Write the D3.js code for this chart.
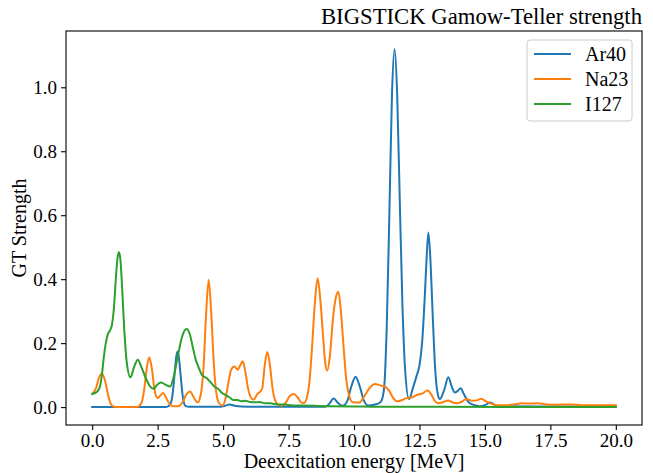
<!DOCTYPE html>
<html lang="en">
<head>
  <meta charset="UTF-8">
  <title>BIGSTICK Gamow-Teller strength</title>
  <script src="https://d3js.org/d3.v7.min.js"></script>
  <style>
    body { margin: 0; background: #fff; }
    text { font-family: "Liberation Serif", "DejaVu Serif", serif; fill: #000; }
  </style>
</head>
<body>
  <div class="canvas"></div>
  <script>
    // values: energy [MeV] and strength
    const ar40X = [0, 2.8, 2.9, 3.0, 3.06, 3.16, 3.21, 3.26, 3.31, 3.36, 3.46, 3.56, 3.7, 4.9, 5.1, 5.25, 5.45, 5.7, 6.5, 8.9,
      9.05, 9.22, 9.4, 9.57, 9.75, 9.9, 10.06, 10.22, 10.38, 10.54, 10.8, 10.95, 11.05, 11.15, 11.25, 11.35, 11.45, 11.55,
      11.65, 11.75, 11.85, 11.95, 12.1, 12.25, 12.4, 12.5, 12.6, 12.7, 12.77, 12.84, 12.92, 13.0, 13.1, 13.2, 13.28,
      13.45, 13.6, 13.75, 13.85, 13.95, 14.07, 14.2, 14.35, 14.49, 14.8, 15.0, 15.2, 15.4, 15.6, 17, 20];
    const ar40Y = [0, 0, 0.002, 0.012, 0.033, 0.115, 0.157, 0.174, 0.157, 0.115, 0.033, 0.004, 0.001, 0.001, 0.005, 0.008, 0.004, 0.002, 0.001, 0.001,
      0.01, 0.027, 0.012, 0.004, 0.02, 0.065, 0.095, 0.065, 0.02, 0.005, 0.008, 0.012, 0.02, 0.06, 0.25, 0.6, 0.975, 1.12,
      0.975, 0.64, 0.32, 0.12, 0.025, 0.06, 0.1, 0.13, 0.2, 0.34, 0.46, 0.546, 0.46, 0.3, 0.12, 0.04, 0.025,
      0.055, 0.093, 0.06, 0.046, 0.05, 0.059, 0.04, 0.018, 0.009, 0.003, 0.006, 0.014, 0.006, 0.003, 0.002, 0.002];

    const na23X = [0, 0.15, 0.25, 0.37, 0.5, 0.6, 0.7, 0.8, 1.0, 1.7, 1.88, 1.98, 2.08, 2.18, 2.28, 2.38, 2.5, 2.6, 2.71, 2.82,
      2.95, 3.1, 3.3, 3.45, 3.6, 3.74, 3.88, 4.03, 4.15, 4.25, 4.35, 4.45, 4.55, 4.65, 4.75, 4.85, 4.98, 5.1, 5.2, 5.3,
      5.43, 5.56, 5.65, 5.75, 5.85, 5.95, 6.05, 6.16, 6.3, 6.49, 6.59, 6.69, 6.79, 6.89, 6.99, 7.1, 7.24, 7.4, 7.55,
      7.71, 7.85, 8.0, 8.09, 8.2, 8.3, 8.4, 8.5, 8.61, 8.72, 8.82, 8.9, 8.98, 9.08, 9.2, 9.3, 9.4, 9.5, 9.6, 9.7, 9.8,
      9.95, 10.2, 10.4, 10.6, 10.8, 11.0, 11.2, 11.35, 11.5, 11.65, 11.85, 12.0, 12.2, 12.4, 12.6, 12.81, 12.95, 13.1,
      13.24, 13.4, 13.6, 13.75, 13.92, 14.1, 14.3, 14.5, 14.68, 14.85, 15.05, 15.25, 15.5, 15.8, 16.1, 16.4, 16.7, 17.0,
      17.3, 17.6, 18.0, 18.3, 18.7, 19.0, 19.5, 20];
    const na23Y = [0.042, 0.06, 0.09, 0.104, 0.08, 0.04, 0.012, 0.002, 0, 0, 0.013, 0.051, 0.119, 0.156, 0.119, 0.055, 0.028, 0.036, 0.044, 0.03,
      0.01, 0.003, 0.003, 0.015, 0.04, 0.049, 0.03, 0.014, 0.04, 0.12, 0.29, 0.398, 0.29, 0.13, 0.04, 0.012, 0.005, 0.03, 0.075, 0.115,
      0.127, 0.117, 0.13, 0.143, 0.11, 0.06, 0.032, 0.023, 0.04, 0.056, 0.13, 0.172, 0.13, 0.058, 0.02, 0.008, 0.004, 0.015, 0.035,
      0.041, 0.03, 0.014, 0.013, 0.03, 0.08, 0.19, 0.32, 0.403, 0.33, 0.22, 0.14, 0.114, 0.16, 0.28, 0.34, 0.361, 0.3, 0.19, 0.09, 0.04,
      0.015, 0.014, 0.035, 0.06, 0.072, 0.068, 0.063, 0.05, 0.028, 0.018, 0.022, 0.028, 0.03, 0.038, 0.042, 0.052, 0.04, 0.018,
      0.012, 0.016, 0.021, 0.015, 0.012, 0.016, 0.025, 0.02, 0.021, 0.026, 0.018, 0.01, 0.006, 0.006, 0.008, 0.012, 0.011, 0.012,
      0.009, 0.007, 0.008, 0.008, 0.006, 0.006, 0.006, 0.006];

    const i127X = [0, 0.1, 0.2, 0.3, 0.37, 0.45, 0.52, 0.6, 0.68, 0.75, 0.82, 0.92, 0.97, 1.02, 1.07, 1.12, 1.22, 1.32, 1.46, 1.6,
      1.74, 1.88, 2.05, 2.2, 2.34, 2.48, 2.63, 2.8, 2.98, 3.1, 3.25, 3.4, 3.52, 3.61, 3.72, 3.85, 3.95, 4.06, 4.2, 4.38,
      4.55, 4.7, 4.8, 4.95, 5.08, 5.25, 5.39, 5.55, 5.7, 5.85, 6.03, 6.2, 6.4, 6.6, 6.8, 7.0, 7.3, 7.56, 8.0, 8.5, 9.0,
      10, 11, 13, 20];
    const i127Y = [0.041, 0.044, 0.049, 0.065, 0.1, 0.16, 0.2, 0.228, 0.24, 0.255, 0.3, 0.42, 0.468, 0.484, 0.468, 0.41, 0.25, 0.14, 0.093, 0.125,
      0.148, 0.125, 0.09, 0.066, 0.057, 0.07, 0.077, 0.07, 0.064, 0.09, 0.15, 0.21, 0.238, 0.244, 0.23, 0.185, 0.15, 0.125, 0.1, 0.09,
      0.075, 0.062, 0.058, 0.045, 0.038, 0.03, 0.022, 0.022, 0.018, 0.02, 0.016, 0.015, 0.016, 0.012, 0.012, 0.009, 0.008, 0.006, 0.005, 0.004, 0.003,
      0.002, 0.001, 0.001, 0];

    const seriesNames = ["Ar40", "Na23", "I127"];
    const seriesColors = ["#1f77b4", "#ff7f0e", "#2ca02c"];
    const xTicks = [0, 2.5, 5, 7.5, 10, 12.5, 15, 17.5, 20];
    const yTicks = [0, 0.2, 0.4, 0.6, 0.8, 1.0];

    const width = 653;
    const height = 473;
    let [mt, mb, mr, ml] = [31, 48, 11, 66];

    const svg = d3.select('.canvas')
      .append('svg')
      .attr('width', width)
      .attr('height', height);

    const graphWidth = width - mr - ml;
    const graphHeight = height - mb - mt;

    const graph = svg.append('g')
      .attr('transform', `translate(${ml}, ${mt})`);

    const x = d3.scaleLinear().domain([-1, 21]).range([0, graphWidth]);
    const y = d3.scaleLinear().domain([-0.056, 1.176]).range([graphHeight, 0]);

    const series = [
      { name: seriesNames[0], xs: ar40X, ys: ar40Y },
      { name: seriesNames[1], xs: na23X, ys: na23Y },
      { name: seriesNames[2], xs: i127X, ys: i127Y }
    ];

    const line = d3.line()
      .x(d => x(d[0]))
      .y(d => y(d[1]))
      .curve(d3.curveMonotoneX);

    graph.append('defs').append('clipPath').attr('id', 'clip')
      .append('rect').attr('width', graphWidth).attr('height', graphHeight);

    graph.append('g')
      .attr('clip-path', 'url(#clip)')
      .selectAll('path')
      .data(series)
      .enter()
      .append('path')
      .attr('d', s => line(s.xs.map((v, i) => [v, s.ys[i]])))
      .attr('fill', 'none')
      .attr('stroke', (s, i) => seriesColors[i])
      .attr('stroke-width', 2)
      .attr('stroke-linejoin', 'round')
      .attr('stroke-linecap', 'square');

    // axes
    const xAxisG = graph.append('g')
      .attr('transform', `translate(0, ${graphHeight})`)
      .call(d3.axisBottom(x).tickValues(xTicks).tickFormat(d3.format('.1f')).tickSize(5).tickPadding(4));
    const yAxisG = graph.append('g')
      .call(d3.axisLeft(y).tickValues(yTicks).tickFormat(d3.format('.1f')).tickSize(5).tickPadding(4));

    [xAxisG, yAxisG].forEach(g => {
      g.select('.domain').remove();
      g.selectAll('line').attr('stroke', '#000').attr('stroke-width', 1.1);
      g.selectAll('text').attr('font-size', 19).attr('font-family', '"Liberation Serif", serif');
    });

    graph.append('rect')
      .attr('width', graphWidth)
      .attr('height', graphHeight)
      .attr('fill', 'none')
      .attr('stroke', '#000')
      .attr('stroke-width', 1.1);

    // labels
    graph.append('text')
      .attr('text-anchor', 'middle')
      .attr('x', graphWidth / 2)
      .attr('y', graphHeight + 43)
      .attr('font-size', 20)
      .text('Deexcitation energy [MeV]');

    svg.append('text')
      .attr('text-anchor', 'middle')
      .attr('transform', `translate(26, ${mt + graphHeight / 2}) rotate(-90)`)
      .attr('font-size', 20)
      .text('GT Strength');

    graph.append('text')
      .attr('text-anchor', 'end')
      .attr('x', graphWidth)
      .attr('y', -7)
      .attr('font-size', 22.7)
      .text('BIGSTICK Gamow-Teller strength');

    // legend
    const legend = graph.append('g')
      .attr('transform', `translate(${graphWidth - 115}, 9)`);
    legend.append('rect')
      .attr('width', 105)
      .attr('height', 81)
      .attr('rx', 3)
      .attr('fill', '#fff')
      .attr('fill-opacity', 0.8)
      .attr('stroke', '#ccc')
      .attr('stroke-width', 1);
    const items = legend.selectAll('.item')
      .data(seriesNames)
      .enter()
      .append('g')
      .attr('transform', (d, i) => `translate(0, ${14 + i * 25})`);
    items.append('line')
      .attr('x1', 7).attr('x2', 44)
      .attr('stroke', (d, i) => seriesColors[i])
      .attr('stroke-width', 2);
    items.append('text')
      .attr('x', 58)
      .attr('dy', '0.35em')
      .attr('font-size', 20)
      .text(d => d);
  </script>
</body>
</html>
